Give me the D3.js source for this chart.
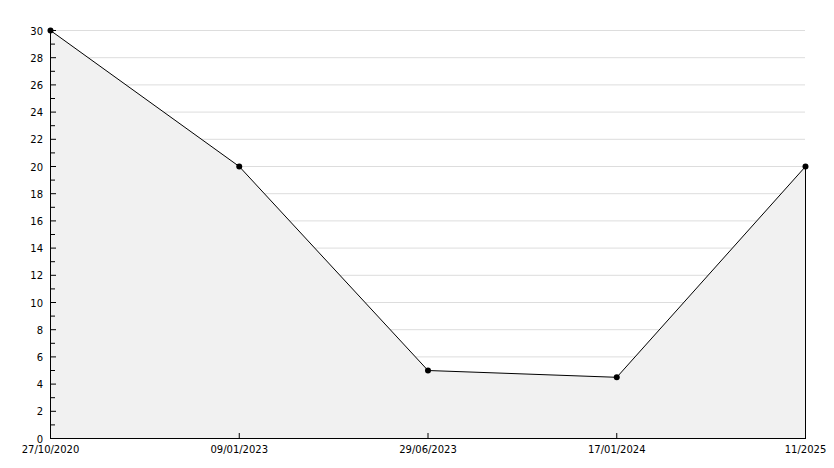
<!DOCTYPE html>
<html>
<head>
<meta charset="utf-8">
<script src="https://cdn.jsdelivr.net/npm/d3@7"></script>
<style>
  body { margin: 0; background: #fff; }
  text { font-family: "DejaVu Sans", sans-serif; font-size: 10px; fill: #000; }
</style>
</head>
<body>
<div class="chart"></div>
<script>
var dates = ["27/10/2020", "09/01/2023", "29/06/2023", "17/01/2024", "11/2025"];
var values = [30, 20, 5, 4.5, 20];
var yTicks = [0, 2, 4, 6, 8, 10, 12, 14, 16, 18, 20, 22, 24, 26, 28, 30];

var div_width = 834;
var div_height = 468;
var plotLeft = 50, plotRight = 805, plotTop = 30, plotBottom = 438;

var svg = d3.select(".chart").append("svg")
    .attr("width", div_width)
    .attr("height", div_height);

var x = d3.scalePoint().domain(dates).range([plotLeft, plotRight]);
var y = d3.scaleLinear().domain([0, 30]).range([plotBottom, plotTop]);

var data = dates.map(function (d, i) { return { date: d, value: values[i] }; });

// grid lines
svg.append("g").selectAll("line")
    .data(yTicks.filter(function (t) { return t > 0; }))
    .enter().append("line")
    .attr("x1", plotLeft + 5).attr("x2", plotRight)
    .attr("y1", function (d) { return y(d) + 0.5; })
    .attr("y2", function (d) { return y(d) + 0.5; })
    .attr("stroke", "#dddddd");

// filled area
var area = d3.area()
    .x(function (d) { return x(d.date) + 0.5; })
    .y0(plotBottom + 0.5)
    .y1(function (d) { return y(d.value) + 0.5; });

svg.append("path")
    .datum(data)
    .attr("d", area)
    .attr("fill", "#f1f1f1")
    .attr("stroke", "none");

// right edge of area
svg.append("line")
    .attr("x1", x(dates[dates.length - 1]) + 0.5).attr("x2", x(dates[dates.length - 1]) + 0.5)
    .attr("y1", y(values[values.length - 1])).attr("y2", plotBottom)
    .attr("stroke", "#000");

var line = d3.line()
    .x(function (d) { return x(d.date) + 0.5; })
    .y(function (d) { return y(d.value) + 0.5; });

svg.append("path")
    .datum(data)
    .attr("d", line)
    .attr("fill", "none")
    .attr("stroke", "#000")
    .attr("stroke-width", 1);

// y axis
var yAxis = svg.append("g");
yAxis.append("line")
    .attr("x1", plotLeft + 0.5).attr("x2", plotLeft + 0.5)
    .attr("y1", plotTop).attr("y2", plotBottom + 1)
    .attr("stroke", "#000");
var minor = d3.range(1, 30, 2);
yAxis.selectAll(".minor").data(minor).enter().append("line")
    .attr("x1", plotLeft).attr("x2", plotLeft + 5)
    .attr("y1", function (d) { return y(d) + 0.5; })
    .attr("y2", function (d) { return y(d) + 0.5; })
    .attr("stroke", "#000");
yAxis.selectAll(".major").data(yTicks).enter().append("line")
    .attr("x1", plotLeft).attr("x2", plotLeft + 6)
    .attr("y1", function (d) { return y(d) + 0.5; })
    .attr("y2", function (d) { return y(d) + 0.5; })
    .attr("stroke", "#000");
yAxis.selectAll("text").data(yTicks).enter().append("text")
    .attr("x", plotLeft - 7)
    .attr("y", function (d) { return y(d) + 4.5; })
    .attr("text-anchor", "end")
    .text(function (d) { return d; });

// x axis
var xAxis = svg.append("g");
xAxis.append("line")
    .attr("x1", plotLeft).attr("x2", plotRight + 1)
    .attr("y1", plotBottom + 0.5).attr("y2", plotBottom + 0.5)
    .attr("stroke", "#000");
xAxis.selectAll(".tick").data(dates).enter().append("line")
    .attr("x1", function (d) { return x(d) + 0.5; })
    .attr("x2", function (d) { return x(d) + 0.5; })
    .attr("y1", plotBottom - 5).attr("y2", plotBottom)
    .attr("stroke", "#000");
xAxis.selectAll("text").data(dates).enter().append("text")
    .attr("x", function (d) { return x(d) + 0.5; })
    .attr("y", plotBottom + 15)
    .attr("text-anchor", "middle")
    .text(function (d) { return d; });

// markers
svg.append("g").selectAll("path")
    .data(data)
    .enter().append("path")
    .attr("d", d3.symbol().type(d3.symbolCircle).size(28))
    .attr("transform", function (d) { return "translate(" + (x(d.date) + 0.5) + "," + (y(d.value) + 0.5) + ")"; })
    .attr("fill", "#000");
</script>
</body>
</html>
